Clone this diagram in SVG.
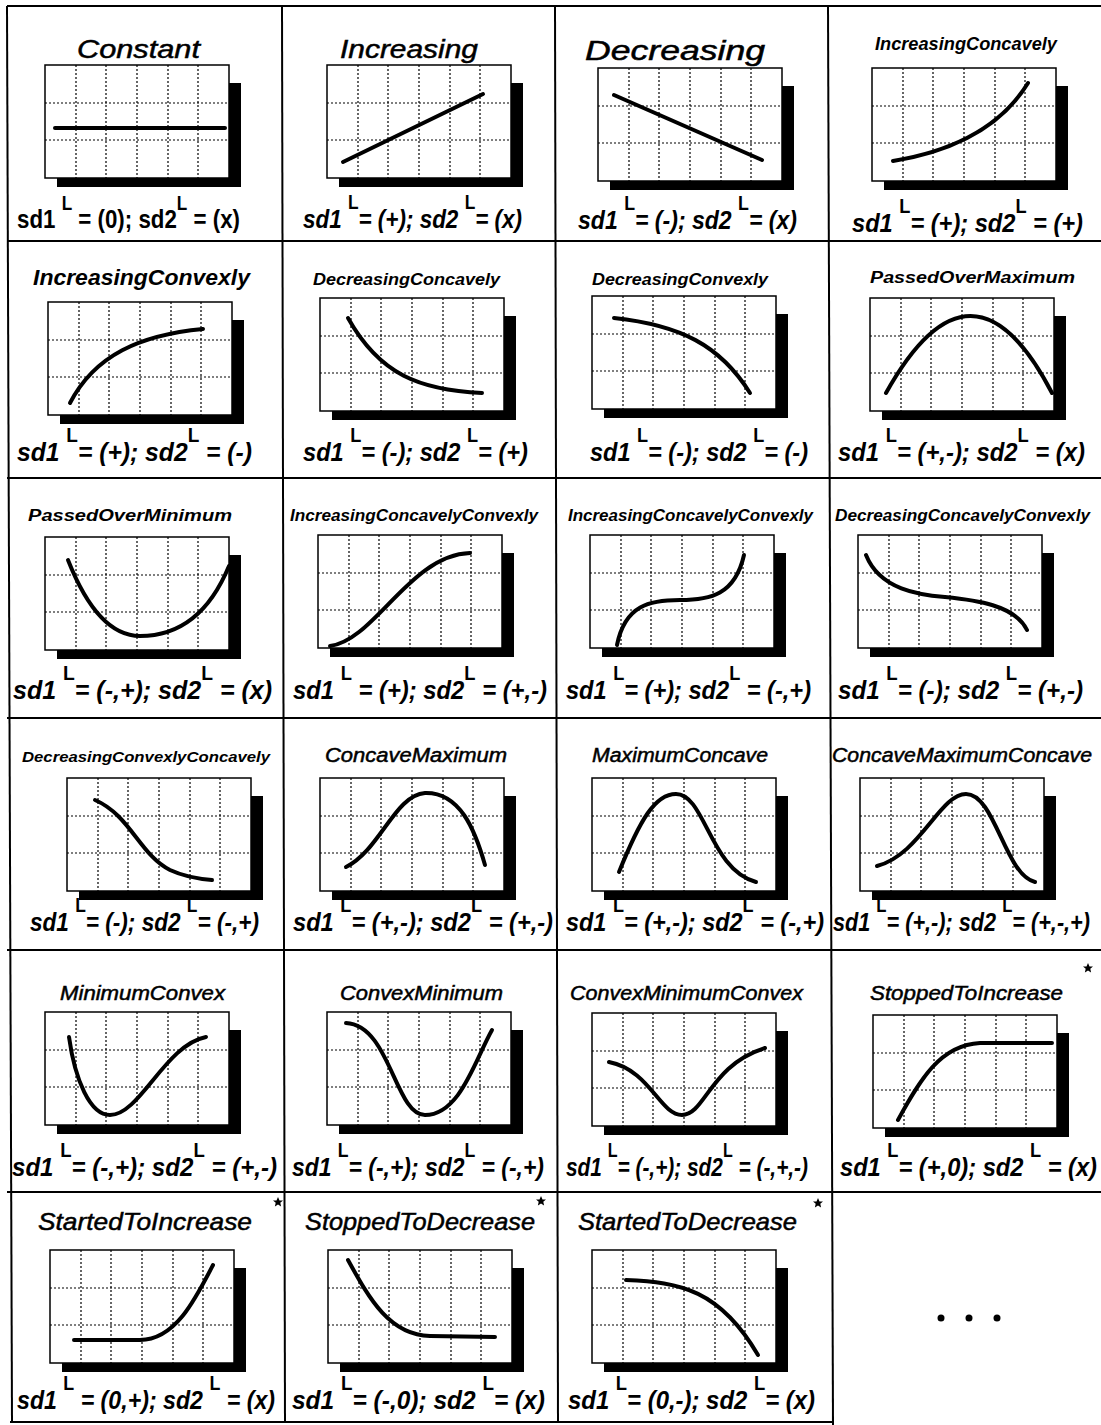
<svg xmlns="http://www.w3.org/2000/svg" xmlns:xlink="http://www.w3.org/1999/xlink" width="1101" height="1425" viewBox="0 0 1101 1425">
<style>
.t{font-family:"Liberation Sans",Arial,sans-serif;font-style:italic;font-weight:bold;fill:#000}
.n{font-weight:normal;stroke:#000;stroke-width:0.5}
.lab{font-family:"Liberation Sans",Arial,sans-serif;font-style:italic;font-weight:bold;font-size:26px;fill:#000}
.up{font-style:normal}
.sup{font-size:20px;font-style:normal;font-weight:bold}
.curve{fill:none;stroke:#000;stroke-width:4;stroke-linecap:round;stroke-linejoin:round}
.grid{stroke:#000;stroke-width:1.2;stroke-dasharray:2 2;fill:none}
.border{stroke:#000;stroke-width:2;fill:none}
</style>
<defs>
<g id="frame">
<path d="M184,18 H196 V122 H12 V113 H184 Z" fill="#000"/>
<rect x="0" y="0" width="184" height="113" fill="#fff" stroke="#000" stroke-width="1.5"/>
<path class="grid" d="M31,0V113M61,0V113M92,0V113M123,0V113M153,0V113M0,38H184M0,75H184"/>
</g>
<path id="star" d="M0,-5 L1.5,-1.6 L5,-1.5 L2.3,0.8 L3.1,4.5 L0,2.5 L-3.1,4.5 L-2.3,0.8 L-5,-1.5 L-1.5,-1.6 Z" fill="#000"/>
</defs>
<rect width="1101" height="1425" fill="#fff"/>
<g id="table-lines">
<line class="border" x1="7" y1="6" x2="1101" y2="6"/>
<line class="border" x1="7" y1="241" x2="1101" y2="241"/>
<line class="border" x1="7" y1="478" x2="1101" y2="478"/>
<line class="border" x1="7" y1="718" x2="1101" y2="718"/>
<line class="border" x1="7" y1="950" x2="1101" y2="950"/>
<line class="border" x1="7" y1="1192" x2="1101" y2="1192"/>
<line class="border" x1="10" y1="1422" x2="833" y2="1422"/>
<line class="border" x1="7" y1="6" x2="12" y2="1422"/>
<line class="border" x1="282" y1="6" x2="285" y2="1422"/>
<line class="border" x1="555" y1="6" x2="558" y2="1422"/>
<line class="border" x1="828" y1="6" x2="833" y2="1425"/>
</g>

<g id="constant">
<text class="t n" x="77" y="58" font-size="26" textLength="123" lengthAdjust="spacingAndGlyphs">Constant</text>
<use href="#frame" x="45" y="65"/>
<path class="curve" d="M55,128 H225"/>
<text class="lab up" x="17" y="228" textLength="223" lengthAdjust="spacingAndGlyphs">sd1 <tspan class="sup" dy="-18">L</tspan><tspan dy="18"> = (0); sd2</tspan><tspan class="sup" dy="-18">L</tspan><tspan dy="18"> = (x)</tspan></text>
</g>
<g id="increasing">
<text class="t n" x="340" y="58" font-size="26" textLength="138" lengthAdjust="spacingAndGlyphs">Increasing</text>
<use href="#frame" x="327" y="65"/>
<path class="curve" d="M343,162 L483,94"/>
<text class="lab" x="303" y="228" textLength="219" lengthAdjust="spacingAndGlyphs">sd1 <tspan class="sup" dy="-19">L</tspan><tspan dy="19">= (+); sd2 </tspan><tspan class="sup" dy="-19">L</tspan><tspan dy="19">= (x)</tspan></text>
</g>
<g id="decreasing">
<text class="t n" x="585" y="60" font-size="27" textLength="180" lengthAdjust="spacingAndGlyphs">Decreasing</text>
<use href="#frame" x="598" y="68"/>
<path class="curve" d="M614,95 L762,160"/>
<text class="lab" x="578" y="229" textLength="219" lengthAdjust="spacingAndGlyphs">sd1 <tspan class="sup" dy="-19">L</tspan><tspan dy="19">= (-); sd2 </tspan><tspan class="sup" dy="-19">L</tspan><tspan dy="19">= (x)</tspan></text>
</g>
<g id="increasing-concavely">
<text class="t" x="875" y="50" font-size="19" textLength="182" lengthAdjust="spacingAndGlyphs">IncreasingConcavely</text>
<use href="#frame" x="872" y="68"/>
<path class="curve" d="M893,161 Q990,145 1028,83"/>
<text class="lab" x="852" y="232" textLength="231" lengthAdjust="spacingAndGlyphs">sd1 <tspan class="sup" dy="-19">L</tspan><tspan dy="19">= (+); sd2</tspan><tspan class="sup" dy="-19">L</tspan><tspan dy="19"> = (+)</tspan></text>
</g>

<g id="increasing-convexly">
<text class="t" x="33" y="285" font-size="22" textLength="217" lengthAdjust="spacingAndGlyphs">IncreasingConvexly</text>
<use href="#frame" x="48" y="302"/>
<path class="curve" d="M70,403 C95,355 140,335 203,329"/>
<text class="lab" x="17" y="461" textLength="235" lengthAdjust="spacingAndGlyphs">sd1 <tspan class="sup" dy="-19">L</tspan><tspan dy="19">= (+); sd2</tspan><tspan class="sup" dy="-19">L</tspan><tspan dy="19"> = (-)</tspan></text>
</g>
<g id="decreasing-concavely">
<text class="t" x="313" y="285" font-size="17" textLength="187" lengthAdjust="spacingAndGlyphs">DecreasingConcavely</text>
<use href="#frame" x="320" y="298"/>
<path class="curve" d="M348,318 C380,375 420,390 482,393"/>
<text class="lab" x="303" y="461" textLength="225" lengthAdjust="spacingAndGlyphs">sd1 <tspan class="sup" dy="-19">L</tspan><tspan dy="19">= (-); sd2 </tspan><tspan class="sup" dy="-19">L</tspan><tspan dy="19">= (+)</tspan></text>
</g>
<g id="decreasing-convexly">
<text class="t" x="592" y="285" font-size="17" textLength="176" lengthAdjust="spacingAndGlyphs">DecreasingConvexly</text>
<use href="#frame" x="592" y="296"/>
<path class="curve" d="M614,318 C680,325 720,345 750,393"/>
<text class="lab" x="590" y="461" textLength="218" lengthAdjust="spacingAndGlyphs">sd1 <tspan class="sup" dy="-19">L</tspan><tspan dy="19">= (-); sd2 </tspan><tspan class="sup" dy="-19">L</tspan><tspan dy="19">= (-)</tspan></text>
</g>
<g id="passed-over-maximum">
<text class="t" x="870" y="283" font-size="16" textLength="205" lengthAdjust="spacingAndGlyphs">PassedOverMaximum</text>
<use href="#frame" x="870" y="298"/>
<path class="curve" d="M886,393 Q972,239 1052,393"/>
<text class="lab" x="838" y="461" textLength="247" lengthAdjust="spacingAndGlyphs">sd1 <tspan class="sup" dy="-19">L</tspan><tspan dy="19">= (+,-); sd2</tspan><tspan class="sup" dy="-19">L</tspan><tspan dy="19"> = (x)</tspan></text>
</g>

<g id="passed-over-minimum">
<text class="t" x="28" y="521" font-size="16" textLength="204" lengthAdjust="spacingAndGlyphs">PassedOverMinimum</text>
<use href="#frame" x="45" y="537"/>
<path class="curve" d="M68,560 Q98,636 140,636 Q200,636 229,566"/>
<text class="lab" x="13" y="699" textLength="259" lengthAdjust="spacingAndGlyphs">sd1 <tspan class="sup" dy="-19">L</tspan><tspan dy="19">= (-,+); sd2</tspan><tspan class="sup" dy="-19">L</tspan><tspan dy="19"> = (x)</tspan></text>
</g>
<g id="increasing-concavely-convexly-1">
<text class="t" x="290" y="521" font-size="16" textLength="248" lengthAdjust="spacingAndGlyphs">IncreasingConcavelyConvexly</text>
<use href="#frame" x="318" y="535"/>
<path class="curve" d="M330,646 C375,640 410,555 470,553"/>
<text class="lab" x="293" y="699" textLength="254" lengthAdjust="spacingAndGlyphs">sd1 <tspan class="sup" dy="-19">L</tspan><tspan dy="19"> = (+); sd2</tspan><tspan class="sup" dy="-19">L</tspan><tspan dy="19"> = (+,-)</tspan></text>
</g>
<g id="increasing-concavely-convexly-2">
<text class="t" x="568" y="521" font-size="16" textLength="245" lengthAdjust="spacingAndGlyphs">IncreasingConcavelyConvexly</text>
<use href="#frame" x="590" y="535"/>
<path class="curve" d="M617,645 C625,605 650,600 680,600 C710,600 735,595 744,555"/>
<text class="lab" x="566" y="699" textLength="245" lengthAdjust="spacingAndGlyphs">sd1 <tspan class="sup" dy="-19">L</tspan><tspan dy="19">= (+); sd2</tspan><tspan class="sup" dy="-19">L</tspan><tspan dy="19"> = (-,+)</tspan></text>
</g>
<g id="decreasing-concavely-convexly">
<text class="t" x="835" y="521" font-size="16" textLength="255" lengthAdjust="spacingAndGlyphs">DecreasingConcavelyConvexly</text>
<use href="#frame" x="858" y="535"/>
<path class="curve" d="M866,555 C880,590 920,595 945,597 C975,600 1015,605 1027,630"/>
<text class="lab" x="838" y="699" textLength="245" lengthAdjust="spacingAndGlyphs">sd1 <tspan class="sup" dy="-19">L</tspan><tspan dy="19">= (-); sd2 </tspan><tspan class="sup" dy="-19">L</tspan><tspan dy="19">= (+,-)</tspan></text>
</g>

<g id="decreasing-convexly-concavely">
<text class="t" x="22" y="762" font-size="15" textLength="248" lengthAdjust="spacingAndGlyphs">DecreasingConvexlyConcavely</text>
<use href="#frame" x="67" y="778"/>
<path class="curve" d="M95,800 C130,815 140,855 170,870 C185,877 200,879 212,880"/>
<text class="lab" x="30" y="931" textLength="229" lengthAdjust="spacingAndGlyphs">sd1 <tspan class="sup" dy="-19">L</tspan><tspan dy="19">= (-); sd2 </tspan><tspan class="sup" dy="-19">L</tspan><tspan dy="19">= (-,+)</tspan></text>
</g>
<g id="concave-maximum">
<text class="t n" x="325" y="762" font-size="20" textLength="182" lengthAdjust="spacingAndGlyphs">ConcaveMaximum</text>
<use href="#frame" x="320" y="778"/>
<path class="curve" d="M346,867 C380,850 395,795 425,793 C460,792 475,830 485,865"/>
<text class="lab" x="293" y="931" textLength="260" lengthAdjust="spacingAndGlyphs">sd1 <tspan class="sup" dy="-19">L</tspan><tspan dy="19">= (+,-); sd2</tspan><tspan class="sup" dy="-19">L</tspan><tspan dy="19"> = (+,-)</tspan></text>
</g>
<g id="maximum-concave">
<text class="t n" x="592" y="762" font-size="20" textLength="176" lengthAdjust="spacingAndGlyphs">MaximumConcave</text>
<use href="#frame" x="592" y="778"/>
<path class="curve" d="M619,872 C640,820 655,794 676,794 C705,794 710,870 756,882"/>
<text class="lab" x="566" y="931" textLength="258" lengthAdjust="spacingAndGlyphs">sd1 <tspan class="sup" dy="-19">L</tspan><tspan dy="19">= (+,-); sd2</tspan><tspan class="sup" dy="-19">L</tspan><tspan dy="19"> = (-,+)</tspan></text>
</g>
<g id="concave-maximum-concave">
<text class="t n" x="832" y="762" font-size="20" textLength="260" lengthAdjust="spacingAndGlyphs">ConcaveMaximumConcave</text>
<use href="#frame" x="860" y="778"/>
<path class="curve" d="M877,866 C920,855 940,794 966,794 C995,794 1005,875 1035,882"/>
<text class="lab" x="833" y="931" font-size="24" textLength="257" lengthAdjust="spacingAndGlyphs">sd1 <tspan class="sup" dy="-19">L</tspan><tspan dy="19">= (+,-); sd2 </tspan><tspan class="sup" dy="-19">L</tspan><tspan dy="19">= (+,-,+)</tspan></text>
</g>

<g id="minimum-convex">
<text class="t n" x="60" y="1000" font-size="20" textLength="165" lengthAdjust="spacingAndGlyphs">MinimumConvex</text>
<use href="#frame" x="45" y="1012"/>
<path class="curve" d="M69,1037 C75,1080 90,1115 110,1115 C140,1115 165,1045 206,1037"/>
<text class="lab" x="12" y="1176" textLength="265" lengthAdjust="spacingAndGlyphs">sd1 <tspan class="sup" dy="-19">L</tspan><tspan dy="19">= (-,+); sd2</tspan><tspan class="sup" dy="-19">L</tspan><tspan dy="19"> = (+,-)</tspan></text>
</g>
<g id="convex-minimum">
<text class="t n" x="340" y="1000" font-size="20" textLength="163" lengthAdjust="spacingAndGlyphs">ConvexMinimum</text>
<use href="#frame" x="327" y="1012"/>
<path class="curve" d="M346,1023 C390,1025 395,1115 425,1115 C460,1115 475,1060 492,1030"/>
<text class="lab" x="292" y="1176" textLength="252" lengthAdjust="spacingAndGlyphs">sd1 <tspan class="sup" dy="-19">L</tspan><tspan dy="19">= (-,+); sd2</tspan><tspan class="sup" dy="-19">L</tspan><tspan dy="19"> = (-,+)</tspan></text>
</g>
<g id="convex-minimum-convex">
<text class="t n" x="570" y="1000" font-size="20" textLength="233" lengthAdjust="spacingAndGlyphs">ConvexMinimumConvex</text>
<use href="#frame" x="592" y="1013"/>
<path class="curve" d="M609,1062 C650,1070 660,1115 682,1115 C705,1115 710,1065 765,1048"/>
<text class="lab" x="566" y="1176" textLength="242" lengthAdjust="spacingAndGlyphs">sd1 <tspan class="sup" dy="-19">L</tspan><tspan dy="19">= (-,+); sd2</tspan><tspan class="sup" dy="-19">L</tspan><tspan dy="19"> = (-,+,-)</tspan></text>
</g>
<g id="stopped-to-increase">
<text class="t n" x="870" y="1000" font-size="20" textLength="193" lengthAdjust="spacingAndGlyphs">StoppedToIncrease</text>
<use href="#star" x="1088" y="968"/>
<use href="#frame" x="873" y="1015"/>
<path class="curve" d="M898,1120 C920,1080 940,1045 980,1043 L1052,1043"/>
<text class="lab" x="840" y="1176" textLength="257" lengthAdjust="spacingAndGlyphs">sd1 <tspan class="sup" dy="-19">L</tspan><tspan dy="19">= (+,0); sd2 </tspan><tspan class="sup" dy="-19">L</tspan><tspan dy="19"> = (x)</tspan></text>
</g>

<g id="started-to-increase">
<text class="t n" x="38" y="1230" font-size="24" textLength="214" lengthAdjust="spacingAndGlyphs">StartedToIncrease</text>
<use href="#star" x="278" y="1202"/>
<use href="#frame" x="50" y="1250"/>
<path class="curve" d="M74,1340 H140 C175,1340 195,1300 213,1265"/>
<text class="lab" x="17" y="1409" textLength="258" lengthAdjust="spacingAndGlyphs">sd1 <tspan class="sup" dy="-19">L</tspan><tspan dy="19"> = (0,+); sd2 </tspan><tspan class="sup" dy="-19">L</tspan><tspan dy="19"> = (x)</tspan></text>
</g>
<g id="stopped-to-decrease">
<text class="t n" x="305" y="1230" font-size="24" textLength="230" lengthAdjust="spacingAndGlyphs">StoppedToDecrease</text>
<use href="#star" x="541" y="1201"/>
<use href="#frame" x="328" y="1250"/>
<path class="curve" d="M348,1260 C370,1300 390,1335 430,1336 L495,1337"/>
<text class="lab" x="292" y="1409" textLength="253" lengthAdjust="spacingAndGlyphs">sd1 <tspan class="sup" dy="-19">L</tspan><tspan dy="19">= (-,0); sd2 </tspan><tspan class="sup" dy="-19">L</tspan><tspan dy="19">= (x)</tspan></text>
</g>
<g id="started-to-decrease">
<text class="t n" x="578" y="1230" font-size="24" textLength="219" lengthAdjust="spacingAndGlyphs">StartedToDecrease</text>
<use href="#star" x="818" y="1203"/>
<use href="#frame" x="592" y="1250"/>
<path class="curve" d="M626,1280 C680,1282 720,1290 758,1355"/>
<text class="lab" x="568" y="1409" textLength="247" lengthAdjust="spacingAndGlyphs">sd1 <tspan class="sup" dy="-19">L</tspan><tspan dy="19">= (0,-); sd2 </tspan><tspan class="sup" dy="-19">L</tspan><tspan dy="19">= (x)</tspan></text>
</g>
<g id="more">
<circle cx="941" cy="1318" r="3.5"/>
<circle cx="969" cy="1318" r="3.5"/>
<circle cx="997" cy="1318" r="3.5"/>
</g>
</svg>
